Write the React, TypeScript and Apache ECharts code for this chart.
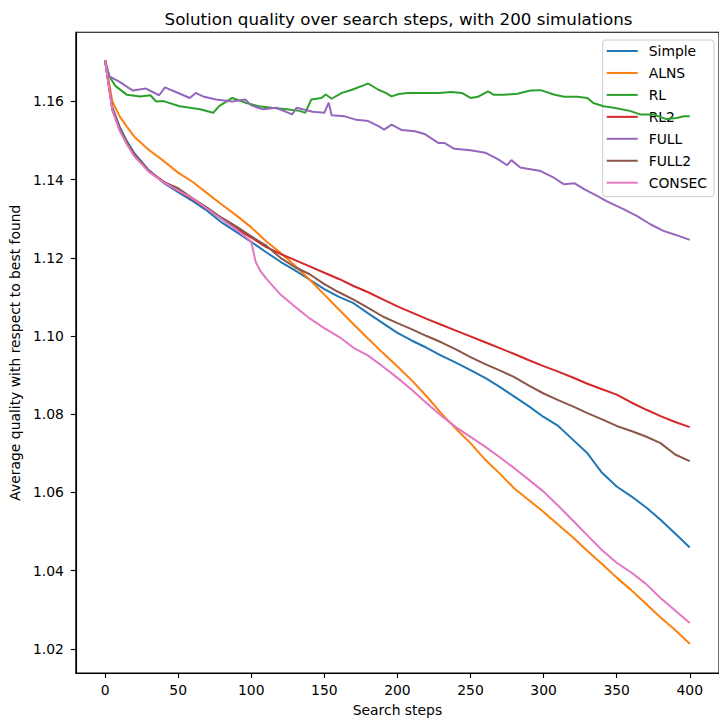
import React, { useEffect, useRef } from "react";
import * as echarts from "echarts";

const seriesNames = ["Simple", "ALNS", "RL", "RL2", "FULL", "FULL2", "CONSEC"];
const seriesColors = ["#1f77b4", "#ff7f0e", "#2ca02c", "#d62728", "#9467bd", "#8c564b", "#e377c2"];

const xTickValues = [0, 50, 100, 150, 200, 250, 300, 350, 400];
const yTickValues = [1.02, 1.04, 1.06, 1.08, 1.1, 1.12, 1.14, 1.16];

const chartTitle = "Solution quality over search steps, with 200 simulations";
const xAxisTitle = "Search steps";
const yAxisTitle = "Average quality with respect to best found";

// shared search steps for the descending series
const stepsA = [0, 5, 10, 15, 20, 30, 40, 50, 60, 70, 80, 90, 100, 110, 120, 130, 140, 150, 160, 170, 180, 190, 200, 210, 220, 230, 240, 250, 260, 270, 280, 290, 300, 310, 320, 330, 340, 350, 360, 370, 380, 390, 400];

const simpleValues = [1.1705, 1.1585, 1.1535, 1.1498, 1.1468, 1.1424, 1.1392, 1.1368, 1.1345, 1.132, 1.129, 1.1266, 1.1241, 1.1215, 1.119, 1.1168, 1.1144, 1.112, 1.11, 1.1084, 1.1058, 1.1033, 1.1008, 1.0988, 1.097, 1.095, 1.0932, 1.0913, 1.0893, 1.087, 1.0845, 1.082, 1.0793, 1.077, 1.0735, 1.07, 1.065, 1.0615, 1.059, 1.0562, 1.053, 1.0495, 1.0459];

const alnsValues = [1.1705, 1.16, 1.1562, 1.1535, 1.151, 1.1476, 1.1448, 1.1418, 1.1394, 1.1365, 1.1336, 1.1308, 1.1278, 1.1243, 1.1213, 1.118, 1.1144, 1.1106, 1.1068, 1.103, 1.0993, 1.0957, 1.0922, 1.0886, 1.0846, 1.0802, 1.0763, 1.0726, 1.0684, 1.0648, 1.061, 1.058, 1.055, 1.0517, 1.0485, 1.045, 1.0417, 1.0382, 1.035, 1.0315, 1.028, 1.0248, 1.0213];

const rl2Values = [1.1705, 1.158, 1.1528, 1.1492, 1.1462, 1.1422, 1.1395, 1.1372, 1.135, 1.1325, 1.13, 1.1275, 1.1252, 1.1228, 1.121, 1.1194, 1.1178, 1.1162, 1.1146, 1.1128, 1.1112, 1.1094, 1.1076, 1.106, 1.1044, 1.1029, 1.1014, 1.0999, 1.0984, 1.0969, 1.0954, 1.0938, 1.0923, 1.0909, 1.0894, 1.0878, 1.0864, 1.085, 1.083, 1.0812, 1.0795, 1.078, 1.0767];

const full2Values = [1.1705, 1.158, 1.153, 1.1495, 1.1465, 1.1422, 1.1394, 1.1378, 1.1352, 1.1328, 1.1302, 1.128, 1.1255, 1.1232, 1.12, 1.1176, 1.1158, 1.1133, 1.1112, 1.1093, 1.1072, 1.105, 1.1033, 1.1017, 1.1, 1.0984, 1.0966, 1.0946, 1.0928, 1.0912, 1.0895, 1.0873, 1.0853, 1.0836, 1.082, 1.0803, 1.0787, 1.077, 1.0757, 1.0743, 1.0726, 1.0697, 1.068];

const consecSteps = [0, 5, 10, 15, 20, 30, 40, 50, 60, 70, 80, 90, 100, 103, 106, 110, 120, 130, 140, 150, 160, 170, 180, 190, 200, 210, 220, 230, 240, 250, 260, 270, 280, 290, 300, 310, 320, 330, 340, 350, 360, 370, 380, 390, 400];
const consecValues = [1.1705, 1.1578, 1.1525, 1.149, 1.146, 1.142, 1.1393, 1.1372, 1.1352, 1.1325, 1.1298, 1.1272, 1.1242, 1.119, 1.1168, 1.1148, 1.1106, 1.1075, 1.1045, 1.102, 1.0998, 1.097, 1.095, 1.0922, 1.0893, 1.0862, 1.0828, 1.0796, 1.0767, 1.0742, 1.0717, 1.069, 1.0662, 1.0632, 1.0602, 1.0566, 1.0528, 1.049, 1.0452, 1.042, 1.0395, 1.0366, 1.033, 1.0298, 1.0266];

const rlSteps = [0, 3, 7, 15, 24, 31, 35, 40, 51, 65, 74, 78, 87, 96, 105, 114, 124, 133, 137, 141, 148, 151, 155, 162, 169, 178, 180, 187, 192, 196, 201, 207, 219, 228, 237, 244, 250, 255, 262, 266, 273, 282, 291, 298, 307, 314, 323, 330, 334, 341, 348, 359, 366, 375, 384, 391, 396, 400];
const rlValues = [1.1705, 1.1664, 1.164, 1.1617, 1.1613, 1.1616, 1.16, 1.1601, 1.1588, 1.158, 1.1571, 1.1588, 1.1609, 1.1597, 1.1588, 1.1584, 1.158, 1.1576, 1.1571, 1.1605, 1.1609, 1.1618, 1.1607, 1.1622, 1.163, 1.1643, 1.1646, 1.163, 1.1622, 1.1613, 1.1619, 1.1622, 1.1622, 1.1622, 1.1624, 1.1622, 1.1609, 1.1612, 1.1626, 1.1617, 1.1617, 1.162, 1.1628, 1.1629, 1.1618, 1.1612, 1.1612, 1.1609, 1.1596, 1.1588, 1.1584, 1.1576, 1.1567, 1.1567, 1.1555, 1.1558, 1.1562, 1.1562];

const fullSteps = [0, 3, 10, 19, 28, 37, 41, 46, 58, 62, 67, 76, 87, 96, 100, 108, 117, 128, 131, 142, 150, 153, 155, 164, 172, 180, 187, 191, 196, 203, 212, 219, 228, 232, 239, 250, 260, 269, 275, 278, 284, 298, 307, 314, 321, 328, 337, 343, 355, 364, 373, 382, 391, 400];
const fullValues = [1.1705, 1.1664, 1.165, 1.1628, 1.1633, 1.1616, 1.1636, 1.1628, 1.1609, 1.1622, 1.1613, 1.1605, 1.16, 1.1605, 1.159, 1.158, 1.1584, 1.1567, 1.1584, 1.1574, 1.1571, 1.1597, 1.1565, 1.1562, 1.1553, 1.155, 1.1537, 1.1528, 1.1541, 1.1527, 1.1524, 1.1516, 1.1494, 1.1494, 1.1479, 1.1475, 1.1469, 1.1452, 1.1437, 1.145, 1.1431, 1.1422, 1.1405, 1.1388, 1.1391, 1.1375, 1.1358, 1.1345, 1.1324, 1.1307, 1.1286, 1.1269, 1.1258, 1.1246];

const seriesSteps = [stepsA, stepsA, rlSteps, stepsA, fullSteps, stepsA, consecSteps];
const seriesValues = [simpleValues, alnsValues, rlValues, rl2Values, fullValues, full2Values, consecValues];

const FONT = "DejaVu Sans";

export default function App() {
  const ref = useRef<HTMLDivElement>(null);
  useEffect(() => {
    if (!ref.current) return;
    const chart = echarts.init(ref.current, null, { renderer: "svg" });
    const axisLineStyle = { color: "#000", width: 1.1 };
    chart.setOption({
      animation: false,
      color: seriesColors,
      textStyle: { fontFamily: FONT },
      grid: {
        left: 75.6,
        top: 32.3,
        width: 647,
        height: 643,
        show: true,
        borderColor: "#000",
        borderWidth: 1.1,
        backgroundColor: "transparent",
      },
      graphic: [
        {
          type: "text",
          x: 398.5,
          y: 18.5,
          style: {
            text: chartTitle,
            fontFamily: FONT,
            fontSize: 16.7,
            fill: "#000",
            textAlign: "center",
            textVerticalAlign: "middle",
          },
        },
      ],
      legend: {
        orient: "vertical",
        left: 602.7,
        top: 40,
        padding: [4, 7, 7, 4],
        itemWidth: 31,
        itemHeight: 14,
        itemGap: 7.95,
        icon: "path://M0 0H31V2H0Z",
        backgroundColor: "rgba(255,255,255,0.8)",
        borderColor: "#cccccc",
        borderWidth: 1,
        borderRadius: 3,
        textStyle: {
          fontFamily: FONT,
          fontSize: 13.9,
          color: "#000",
          lineHeight: 14,
          padding: [0, 0, 0, 6],
        },
        data: seriesNames,
      },
      xAxis: {
        type: "value",
        min: -20,
        max: 420,
        splitLine: { show: false },
        axisLine: { show: true, onZero: false, lineStyle: axisLineStyle },
        axisTick: { show: true, length: 5, lineStyle: axisLineStyle, customValues: xTickValues },
        axisLabel: {
          customValues: xTickValues,
          fontFamily: FONT,
          fontSize: 13.9,
          color: "#000",
          margin: 10,
        },
        name: xAxisTitle,
        nameLocation: "middle",
        nameGap: 30,
        nameTextStyle: { fontFamily: FONT, fontSize: 13.9, color: "#000" },
      },
      yAxis: {
        type: "value",
        min: 1.0138,
        max: 1.1777,
        splitLine: { show: false },
        axisLine: { show: true, onZero: false, lineStyle: axisLineStyle },
        axisTick: { show: true, length: 5, lineStyle: axisLineStyle, customValues: yTickValues },
        axisLabel: {
          customValues: yTickValues,
          formatter: (v: number) => v.toFixed(2),
          fontFamily: FONT,
          fontSize: 13.9,
          color: "#000",
          margin: 12,
        },
        name: yAxisTitle,
        nameLocation: "middle",
        nameGap: 46,
        nameRotate: 90,
        nameTextStyle: { fontFamily: FONT, fontSize: 13.9, color: "#000" },
      },
      series: seriesNames.map((name, i) => ({
        name,
        type: "line",
        showSymbol: false,
        symbol: "none",
        data: seriesSteps[i].map((s, j) => [s, seriesValues[i][j]]),
        lineStyle: { width: 2, color: seriesColors[i] },
        itemStyle: { color: seriesColors[i] },
        z: 2 + i,
      })),
    });
    return () => chart.dispose();
  }, []);
  return (
    <div
      ref={ref}
      style={{ position: "absolute", left: 0, top: 0, width: 719, height: 722, background: "#fff" }}
    />
  );
}
